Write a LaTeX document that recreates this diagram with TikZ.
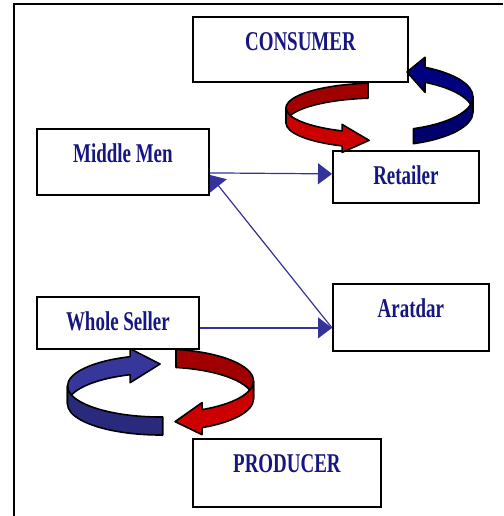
\documentclass[tikz,border=0pt]{standalone}
\usepackage{fontspec}
\setmainfont{Liberation Serif}
\usepackage{graphicx}
\usetikzlibrary{arrows.meta}

\definecolor{labelblue}{RGB}{22,22,128}
\definecolor{linkblue}{RGB}{51,51,153}
\definecolor{redfront}{RGB}{204,0,0}
\definecolor{redback}{RGB}{160,0,0}
\definecolor{navyfront}{RGB}{0,0,110}
\definecolor{navyback}{RGB}{0,0,128}
\definecolor{bluefront}{RGB}{42,42,125}
\definecolor{blueback}{RGB}{55,55,155}

\newcommand{\lbl}[1]{\scalebox{0.79}[1.13]{#1}}
% one piece of a ring band, and one piece ending in a head
\newcommand{\bandpart}[3]{%
  \filldraw[band, fill=#1] (#2:\ra pt and \rb pt) arc[start angle=#2, end angle=#3, x radius=\ra pt, y radius=\rb pt]
    -- ++(0,-\bh) arc[start angle=#3, end angle=#2, x radius=\ra pt, y radius=\rb pt] -- cycle;}
\newcommand{\bandhead}[5]{%
  \filldraw[band, fill=#1] (#2:\ra pt and \rb pt) arc[start angle=#2, end angle=#3, x radius=\ra pt, y radius=\rb pt]
    -- ++(0,#5) -- ({\ra*cos(#4)},{\rb*sin(#4)-\bh/2}) -- ({\ra*cos(#3)},{\rb*sin(#3)-\bh-#5})
    -- ++(0,#5) arc[start angle=#3, end angle=#2, x radius=\ra pt, y radius=\rb pt] -- cycle;}

\tikzset{
  box/.style={draw, line width=1.8pt, fill=white, inner sep=0pt, anchor=north west,
    text height=34pt, font=\fontsize{24}{28}\selectfont\bfseries, text=labelblue},
  link/.style={draw=linkblue, line width=1.2pt, -{Triangle[length=14pt,width=21pt]}},
  band/.style={draw=black, line width=1.6pt, line join=round}
}

\begin{document}
\begin{tikzpicture}[x=1pt,y=1pt]
\useasboundingbox (0,0) rectangle (503,-516);
\draw[line width=2pt] (503,-4.3) -- (14.3,-4.3) -- (14.3,-516);

\node[box, minimum width=215pt, text depth=31pt] (con) at (192,-16) {\lbl{CONSUMER}};
\node[box, minimum width=146pt, text depth=18pt] (ret) at (332,-150) {\lbl{Retailer}};
\node[box, minimum width=172pt, text depth=32pt] (mid) at (36,-128) {\lbl{Middle Men}};
\node[box, minimum width=162pt, text depth=18pt] (ws) at (36,-296) {\lbl{Whole Seller}};
\node[box, minimum width=156pt, text depth=33pt] (ar) at (332,-283) {\lbl{Aratdar}};
\node[box, minimum width=188pt, text depth=34pt] (pro) at (192,-438) {\lbl{PRODUCER}};

\coordinate (ar-in) at ([yshift=-10.5pt]ar.west);
\draw[link] ([yshift=-11pt]mid.east) -- ([yshift=3pt]ret.west);
\draw[link] (ar-in) -- ([yshift=-13pt]mid.east);
\draw[link] (ws.east |- ar-in) -- (ar-in);

% arrows between consumer and retailer
\begin{scope}[shift={(379.5,-108)}]
  \def\ra{93.5}\def\rb{25}\def\bh{15}
  \bandpart{redback}{97}{180}
  \bandhead{redfront}{180}{246.4}{263.6}{6.5}
\end{scope}
\begin{scope}[shift={(379.5,-97)}]
  \def\ra{93.5}\def\rb{34}\def\bh{15}
  \bandhead{navyback}{0}{60.9}{72.9}{10}
  \bandpart{navyfront}{-68.7}{0}
\end{scope}

% arrows between whole seller and producer
\begin{scope}[shift={(160.5,-386)}]
  \def\ra{93}\def\rb{31}\def\bh{18}
  \bandhead{blueback}{180}{109.1}{90.3}{8}
  \bandpart{bluefront}{180}{271.4}
\end{scope}
\begin{scope}[shift={(160.5,-381)}]
  \def\ra{93}\def\rb{32}\def\bh{18}
  \bandpart{redback}{80.4}{0}
  \bandhead{redfront}{0}{-63.5}{-81}{7}
\end{scope}
\end{tikzpicture}
\end{document}
